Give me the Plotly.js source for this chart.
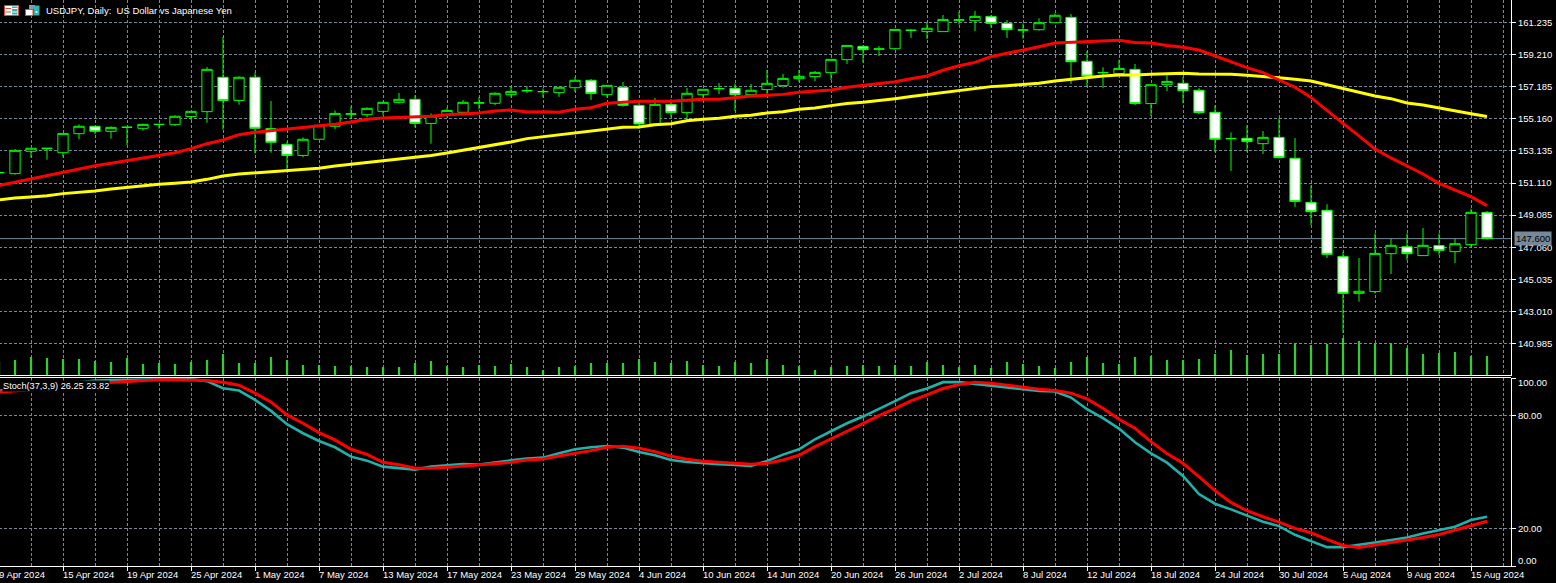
<!DOCTYPE html>
<html>
<head>
<meta charset="utf-8">
<script src="https://cdn.plot.ly/plotly-3.0.1.min.js"></script>
<style>
html,body{margin:0;padding:0;background:#000;overflow:hidden;width:1556px;height:583px}
#chart{position:absolute;left:-1px;top:0;width:1557px;height:583px}
</style>
</head>
<body>
<div id="chart"></div>
<script>
const chartTitle = 'USDJPY, Daily:&nbsp; US Dollar vs Japanese Yen';
const stochLabel = 'Stoch(37,3,9) 26.25 23.82';
const lastPrice = 147.60;
const priceTicks = [161.235,159.210,157.185,155.160,153.135,151.110,149.085,147.060,145.035,143.010,140.985];
const stochTicks = [100,80,20,0];
const dateLabels = ['9 Apr 2024','15 Apr 2024','19 Apr 2024','25 Apr 2024','1 May 2024','7 May 2024','13 May 2024','17 May 2024','23 May 2024','29 May 2024','4 Jun 2024','10 Jun 2024','14 Jun 2024','20 Jun 2024','26 Jun 2024','2 Jul 2024','8 Jul 2024','12 Jul 2024','18 Jul 2024','24 Jul 2024','30 Jul 2024','5 Aug 2024','9 Aug 2024','15 Aug 2024'];

const opens = [151.75,151.70,153.11,153.27,153.02,154.22,154.69,154.37,154.62,154.56,154.80,154.79,155.30,155.61,157.78,156.32,157.78,154.54,153.55,152.85,153.87,154.69,155.45,155.42,155.63,156.20,156.39,154.87,155.38,155.57,156.15,156.14,156.68,156.92,156.86,156.81,157.12,157.59,156.68,157.15,156.01,154.83,156.07,155.55,156.68,157.05,157.08,156.68,157.00,157.25,157.69,157.82,158.07,158.89,159.73,159.55,159.58,160.73,160.66,160.66,161.38,161.35,161.62,161.18,160.75,160.78,161.22,161.56,158.79,158.06,158.01,158.28,156.12,157.31,157.40,156.96,155.57,153.90,153.93,153.59,153.99,152.67,149.89,149.39,146.48,144.15,144.26,146.65,147.09,146.53,147.16,146.78,147.22,149.26];
const highs = [151.80,153.25,153.30,153.32,154.24,154.81,154.69,154.69,154.63,154.85,154.85,155.38,155.63,158.43,160.34,157.84,158.07,156.28,153.72,153.99,154.77,155.69,155.95,155.88,156.26,156.79,156.64,155.50,155.88,156.35,156.54,156.83,157.23,157.21,157.08,157.15,157.78,157.67,157.27,157.48,156.28,156.47,156.39,157.10,157.02,157.42,157.38,157.36,158.24,157.99,158.24,158.18,158.91,159.79,159.79,159.75,160.80,160.82,161.22,161.71,161.92,161.96,161.71,161.39,161.18,161.50,161.81,161.77,159.44,158.41,158.89,158.62,157.33,157.90,157.78,157.10,156.01,154.31,154.75,154.39,155.19,153.95,150.96,149.77,146.76,146.38,147.94,147.58,147.94,148.27,147.94,147.58,149.49,149.34];
const lows = [151.72,151.64,152.71,152.58,152.73,153.87,154.18,153.91,153.49,154.41,154.54,154.71,155.08,154.92,154.48,156.05,152.98,153.02,151.97,152.73,153.87,154.50,155.13,155.25,155.38,156.12,154.62,153.59,155.23,155.42,155.76,156.03,156.51,156.79,156.51,156.54,156.85,156.35,156.49,155.93,154.52,154.73,155.25,155.08,156.49,156.72,155.65,156.68,156.70,157.12,157.48,157.54,157.61,158.62,158.70,159.12,159.52,160.26,160.19,160.66,161.10,160.70,160.91,160.26,160.22,160.72,161.22,157.36,157.23,157.10,157.82,156.03,155.34,156.91,156.14,155.46,153.07,151.87,153.07,152.94,152.65,149.60,148.46,146.38,141.65,143.62,144.15,145.37,146.25,146.53,146.57,146.06,147.05,147.54];
const closes = [151.77,153.17,153.30,153.30,154.24,154.69,154.37,154.62,154.63,154.81,154.81,155.32,155.63,158.28,156.32,157.78,154.56,153.68,152.85,153.87,154.75,155.50,155.47,155.82,156.20,156.39,154.87,155.34,155.69,156.20,156.17,156.77,156.89,156.94,156.88,157.15,157.59,156.75,157.27,156.01,154.83,156.07,155.55,156.77,157.02,157.07,156.68,156.96,157.40,157.71,157.84,158.09,158.91,159.79,159.52,159.57,160.80,160.75,160.87,161.43,161.40,161.62,161.18,160.78,160.77,161.22,161.69,158.76,157.86,158.08,158.34,156.12,157.31,157.52,156.93,155.55,153.87,153.92,153.72,153.99,152.71,149.95,149.30,146.61,144.15,144.28,146.67,147.18,146.65,147.18,146.86,147.28,149.26,147.60];
const tickVolume = [15,16,19,18,17,17,15,14,18,12,13,12,14,16,22,13,13,19,16,11,11,10,10,9,9,9,13,15,10,9,11,10,12,9,6,9,10,13,13,13,17,14,13,15,11,10,14,13,17,11,10,6,9,10,11,10,11,10,14,11,9,11,8,14,12,10,8,14,19,13,12,19,20,16,16,17,22,26,21,22,22,33,31,32,38,35,32,33,28,22,23,24,20,20];
const maRed = [150.96,151.17,151.38,151.57,151.80,151.99,152.20,152.35,152.52,152.71,152.88,153.02,153.28,153.59,153.82,154.16,154.31,154.41,154.50,154.58,154.69,154.81,154.96,155.13,155.21,155.25,155.32,155.32,155.42,155.48,155.53,155.65,155.72,155.59,155.61,155.57,155.76,155.86,156.14,156.20,156.26,156.26,156.26,156.33,156.39,156.39,156.49,156.60,156.64,156.70,156.83,156.89,156.98,157.15,157.27,157.36,157.50,157.69,157.86,158.22,158.51,158.72,159.08,159.29,159.48,159.71,159.94,159.98,160.05,160.07,160.11,159.98,159.94,159.79,159.67,159.50,159.12,158.76,158.39,158.07,157.61,157.15,156.51,155.72,154.87,154.08,153.25,152.69,152.18,151.68,151.09,150.67,150.25,149.68];
const maYellow = [150.04,150.16,150.23,150.31,150.44,150.52,150.61,150.73,150.84,150.94,151.03,151.09,151.17,151.34,151.55,151.68,151.76,151.83,151.91,151.97,152.04,152.18,152.29,152.39,152.48,152.60,152.73,152.85,153.00,153.17,153.36,153.53,153.70,153.91,154.03,154.14,154.26,154.41,154.52,154.62,154.64,154.79,154.85,155.04,155.13,155.19,155.32,155.38,155.53,155.61,155.76,155.84,155.99,156.12,156.20,156.30,156.43,156.56,156.68,156.81,156.96,157.06,157.19,157.25,157.33,157.40,157.54,157.65,157.78,157.86,157.92,157.92,157.97,157.99,158.03,157.99,157.97,157.97,157.90,157.84,157.75,157.65,157.54,157.31,157.06,156.81,156.60,156.43,156.16,156.03,155.86,155.65,155.48,155.30];
const stochK = [93.34,93.70,94.59,95.83,96.89,97.78,98.67,98.85,99.03,99.38,99.38,99.38,99.38,98.32,94.59,93.34,88.37,82.51,75.40,70.61,66.52,63.15,58.17,56.04,52.84,52.13,51.25,52.84,53.38,54.27,53.91,55.15,56.22,57.11,57.64,59.95,62.08,63.15,63.86,62.97,60.66,58.88,56.40,55.33,54.62,54.09,53.73,53.20,55.86,59.24,62.08,67.41,71.67,75.93,79.49,83.40,87.66,91.92,94.41,97.78,97.78,96.89,95.83,94.94,94.05,93.16,92.81,89.61,83.40,78.60,73.09,65.81,59.95,54.98,47.87,38.28,33.13,30.11,26.91,23.54,21.23,16.61,13.24,10.04,10.04,11.10,12.52,13.77,15.19,17.32,19.28,20.87,24.43,26.25];
const stochD = [92.45,92.99,93.70,94.59,95.65,96.54,97.25,97.78,97.96,98.85,99.03,99.03,99.03,98.67,97.78,96.18,91.92,87.30,80.38,75.93,70.96,67.05,62.08,59.42,55.15,53.91,51.96,51.96,52.49,53.20,53.55,54.27,55.15,56.40,56.93,58.53,59.77,61.37,63.15,63.68,62.61,60.84,58.35,56.75,55.69,54.98,54.62,54.09,54.62,56.40,58.88,63.50,67.41,71.67,75.76,80.02,83.75,87.84,91.03,94.41,96.54,97.78,97.25,96.36,95.12,94.05,93.34,91.92,88.90,83.93,78.07,73.27,66.17,59.77,54.62,47.52,40.06,33.84,29.40,26.20,23.36,19.98,17.67,14.12,10.93,9.86,11.10,12.35,13.77,15.19,16.79,19.10,21.23,23.82];

const barX = opens.map((_, k) => k - 1);
const labelTicks = dateLabels.map((_, k) => -1 + 4 * k);
const gridOnlyTicks = dateLabels.map((_, k) => 1 + 4 * k);
const fontName = '"Liberation Sans", Arial, sans-serif';
const gridColor = '#778899';
const gridDash = '3px,2px';

const traces = [
  {type:'candlestick', x:barX, open:opens, high:highs, low:lows, close:closes, xaxis:'x', yaxis:'y',
   increasing:{line:{color:'#00FF00',width:1}, fillcolor:'#000000'},
   decreasing:{line:{color:'#00FF00',width:1}, fillcolor:'#FFFFFF'},
   whiskerwidth:0, hoverinfo:'skip', showlegend:false},
  {type:'scatter', mode:'lines', x:barX, y:maYellow, xaxis:'x', yaxis:'y', line:{color:'#FFFF00',width:3}, hoverinfo:'skip', showlegend:false},
  {type:'scatter', mode:'lines', x:barX, y:maRed, xaxis:'x', yaxis:'y', line:{color:'#FF0000',width:3}, hoverinfo:'skip', showlegend:false},
  {type:'bar', x:barX, y:tickVolume, width:0.14, xaxis:'x', yaxis:'y3', marker:{color:'#32CD32',line:{width:0}}, hoverinfo:'skip', showlegend:false},
  {type:'scatter', mode:'lines', x:barX, y:stochK, xaxis:'x', yaxis:'y2', line:{color:'#20B2AA',width:2.6}, hoverinfo:'skip', showlegend:false},
  {type:'scatter', mode:'lines', x:barX, y:stochD, xaxis:'x', yaxis:'y2', line:{color:'#FF0000',width:3}, hoverinfo:'skip', showlegend:false}
];

const priceAxisCommon = {
  side:'right', showline:true, linecolor:'#FFFFFF', linewidth:1, ticks:'outside', ticklen:4, tickcolor:'#FFFFFF', tickwidth:1,
  tickfont:{family:fontName,size:9.5,color:'#FFFFFF'}, showgrid:true, gridcolor:gridColor, griddash:gridDash, gridwidth:1,
  zeroline:false, fixedrange:true, tickmode:'array'
};

function iconRect(x0, x1, y0, y1, fill, stroke) {
  return {type:'rect', xref:'paper', yref:'paper', xsizemode:'pixel', ysizemode:'pixel', xanchor:0, yanchor:1,
    x0:x0, x1:x1, y0:-y0, y1:-y1, fillcolor:fill, line:{color:stroke, width:stroke === 'rgba(0,0,0,0)' ? 0 : 1}, layer:'above'};
}
const none = 'rgba(0,0,0,0)';
const iconShapes = [
  iconRect(5.5,19.5,5.5,15.5,'#FFFFFF','#E04A3A'),
  iconRect(13,18.5,6.5,14.5,'#2FB5AE',none),
  iconRect(6.5,12,8,9,'#E04A3A',none),
  iconRect(6.5,12,11.5,12.5,'#E04A3A',none),
  iconRect(13,18.5,8,9,'#FFFFFF',none),
  iconRect(13,18.5,11.5,12.5,'#FFFFFF',none),
  iconRect(26.5,34,9.5,15.5,'#FFFFFF','#E04A3A'),
  iconRect(30,36,5,9,'#8A98A8',none),
  iconRect(34.5,40.5,5.5,15.5,'#2FB5AE',none),
  iconRect(36.5,38.5,11,13,'#E6ECEE',none)
];

const layout = {
  width:1557, height:583, autosize:false,
  paper_bgcolor:'#000000', plot_bgcolor:'#000000',
  margin:{l:0,r:45,t:0,b:17,pad:0},
  boxgap:0.36, boxgroupgap:0, barmode:'overlay', showlegend:false, dragmode:false,
  xaxis:{type:'linear', range:[-1,93.5], anchor:'y2', showline:true, linecolor:'#FFFFFF', linewidth:1,
    rangeslider:{visible:false}, tickmode:'array', tickvals:labelTicks, ticktext:dateLabels,
    ticks:'outside', ticklen:4, tickcolor:'#FFFFFF', tickwidth:1, ticklabelposition:'outside right', ticklabelshift:-1, ticklabeloverflow:'allow',
    tickfont:{family:fontName,size:9.5,color:'#FFFFFF'}, tickangle:0,
    showgrid:true, gridcolor:gridColor, griddash:gridDash, gridwidth:1, zeroline:false, fixedrange:true,
    minor:{tickmode:'array', tickvals:gridOnlyTicks, ticks:'', showgrid:true, gridcolor:gridColor, griddash:gridDash, gridwidth:1}},
  yaxis:Object.assign({}, priceAxisCommon, {domain:[190/566,1], range:[138.935,162.654], anchor:'x',
    tickvals:priceTicks, ticktext:priceTicks.map(v => v.toFixed(3))}),
  yaxis2:Object.assign({}, priceAxisCommon, {domain:[0,188/566], range:[0,100], anchor:'x',
    tickvals:stochTicks, ticktext:stochTicks.map(v => (v === 100 || v === 0) ? '' : v.toFixed(2))}),
  yaxis3:{overlaying:'y', side:'right', range:[0,376], visible:false, fixedrange:true, anchor:'x'},
  shapes:[
    {type:'line', xref:'paper', x0:0, x1:1, yref:'y', y0:lastPrice, y1:lastPrice, line:{color:gridColor,width:1}, layer:'below'},
    {type:'line', xref:'paper', x0:0, x1:1, yref:'paper', y0:(566-375.5)/566, y1:(566-375.5)/566, line:{color:'#FFFFFF',width:1}, layer:'above'},
    {type:'line', xref:'paper', x0:0, x1:1, yref:'paper', y0:(566-377.5)/566, y1:(566-377.5)/566, line:{color:'#FFFFFF',width:1}, layer:'above'}
  ].concat(iconShapes),
  annotations:[
    {xref:'paper', yref:'paper', x:0, y:1, xanchor:'left', yanchor:'top', xshift:46, yshift:-4, text:chartTitle, showarrow:false, font:{family:fontName,size:9.5,color:'#FFFFFF'}, borderpad:0},
    {xref:'paper', yref:'y2 domain', x:0, y:1, xanchor:'left', yanchor:'top', xshift:3, yshift:-2, text:stochLabel, showarrow:false, bgcolor:'#000000', font:{family:fontName,size:9.2,color:'#FFFFFF'}, borderpad:0},
    {xref:'paper', yref:'y', x:1, y:lastPrice, xanchor:'left', yanchor:'middle', xshift:3, text:lastPrice.toFixed(3), showarrow:false, bgcolor:gridColor, borderpad:1, font:{family:fontName,size:9.5,color:'#000000'}},
    {xref:'paper', yref:'y2', x:1, y:100, xanchor:'left', yanchor:'top', xshift:6, yshift:2, text:'100.00', showarrow:false, borderpad:0, font:{family:fontName,size:9.5,color:'#FFFFFF'}},
    {xref:'paper', yref:'y2', x:1, y:0, xanchor:'left', yanchor:'bottom', xshift:6, yshift:-1, text:'0.00', showarrow:false, borderpad:0, font:{family:fontName,size:9.5,color:'#FFFFFF'}}
  ]
};

Plotly.newPlot('chart', traces, layout, {staticPlot:true, displayModeBar:false});
</script>
</body>
</html>
